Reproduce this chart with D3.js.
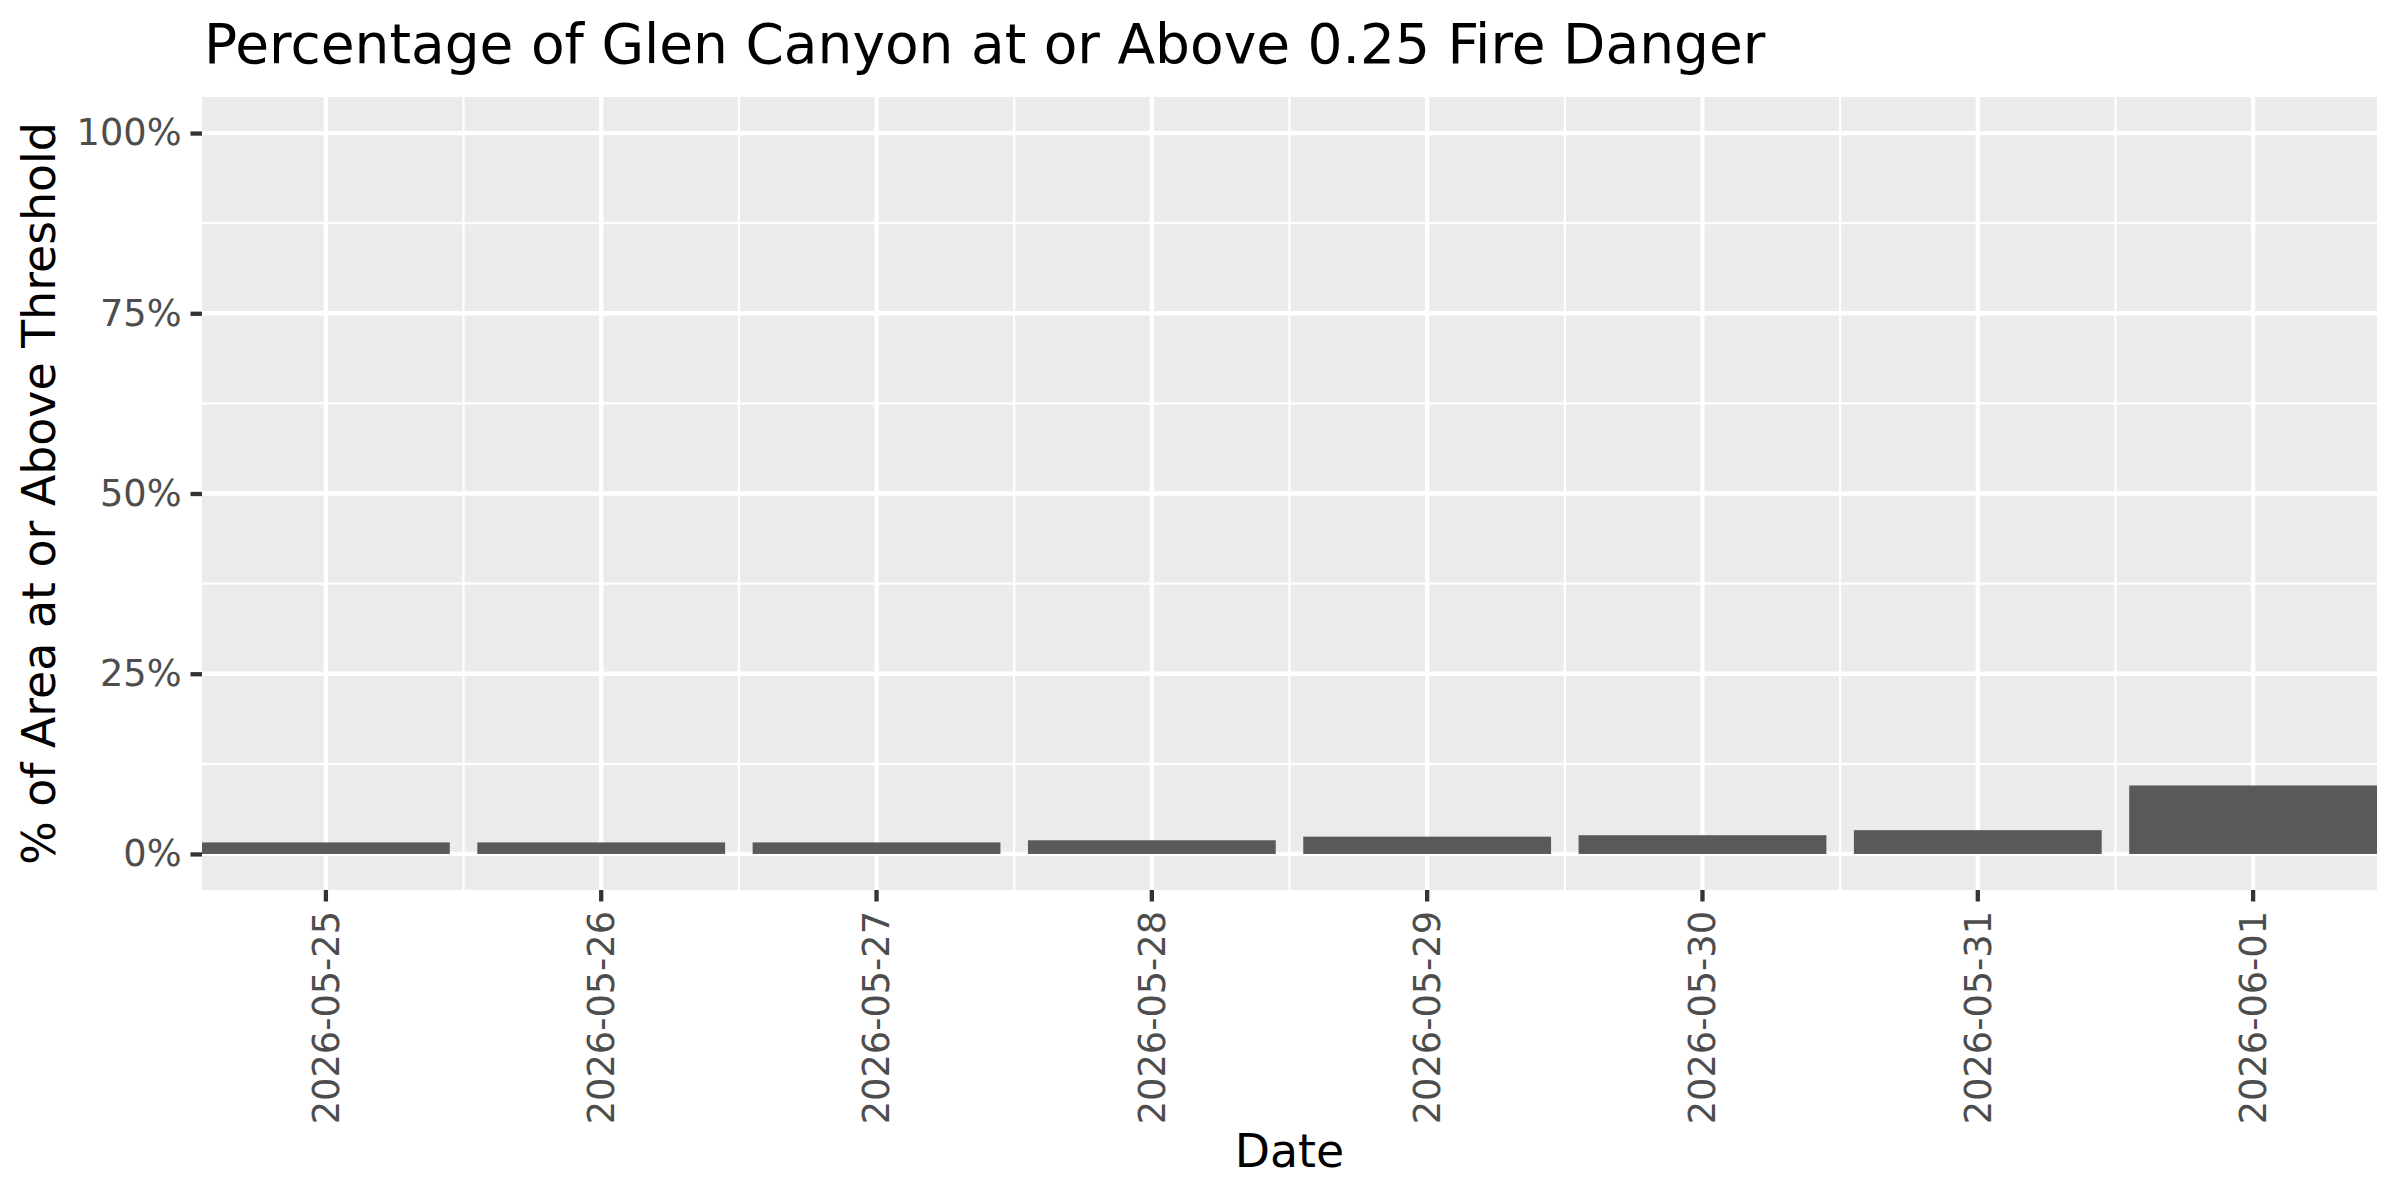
<!DOCTYPE html>
<html>
<head>
<meta charset="utf-8">
<script src="https://cdn.jsdelivr.net/npm/d3@7"></script>
<style>
  body { margin: 0; background: #fff; }
  svg { display: block; font-family: "DejaVu Sans", sans-serif; }
</style>
</head>
<body>
<svg width="2400" height="1200"></svg>
<script>
// data
const dates = ["2026-05-25", "2026-05-26", "2026-05-27", "2026-05-28",
               "2026-05-29", "2026-05-30", "2026-05-31", "2026-06-01"];
const pctAbove = [0.016, 0.016, 0.016, 0.019, 0.024, 0.026, 0.033, 0.095];
const yTicks = [0, 0.25, 0.5, 0.75, 1];
const yMinor = [0.125, 0.375, 0.625, 0.875];

const svg = d3.select("svg");
const panel = { left: 202, right: 2377, top: 97, bottom: 890 };

svg.append("rect").attr("width", 2400).attr("height", 1200).attr("fill", "#fff");

const x = d3.scaleBand()
  .domain(dates)
  .range([panel.left, panel.right])
  .paddingInner(0.1)
  .paddingOuter(0);
const xc = d => x(d) + x.bandwidth() / 2;

const y = d3.scaleLinear()
  .domain([-0.05, 1.05])
  .range([panel.bottom, panel.top]);

// panel background
svg.append("rect")
  .attr("x", panel.left).attr("y", panel.top)
  .attr("width", panel.right - panel.left)
  .attr("height", panel.bottom - panel.top)
  .attr("fill", "#EBEBEB");

const grid = svg.append("g").attr("stroke", "#fff");

// minor grid
grid.selectAll(".hminor").data(yMinor).enter().append("line")
  .attr("x1", panel.left).attr("x2", panel.right)
  .attr("y1", d => y(d)).attr("y2", d => y(d))
  .attr("stroke-width", 2.2);
grid.selectAll(".vminor").data(dates.slice(1)).enter().append("line")
  .attr("x1", (d, i) => (xc(d) + xc(dates[i])) / 2)
  .attr("x2", (d, i) => (xc(d) + xc(dates[i])) / 2)
  .attr("y1", panel.top).attr("y2", panel.bottom)
  .attr("stroke-width", 2.2);

// major grid
grid.selectAll(".hmajor").data(yTicks).enter().append("line")
  .attr("x1", panel.left).attr("x2", panel.right)
  .attr("y1", d => y(d)).attr("y2", d => y(d))
  .attr("stroke-width", 4.3);
grid.selectAll(".vmajor").data(dates).enter().append("line")
  .attr("x1", xc).attr("x2", xc)
  .attr("y1", panel.top).attr("y2", panel.bottom)
  .attr("stroke-width", 4.3);

// bars
svg.append("g").selectAll("rect")
  .data(dates.map((d, i) => ({ date: d, value: pctAbove[i] })))
  .enter().append("rect")
    .attr("x", d => x(d.date))
    .attr("width", x.bandwidth())
    .attr("y", d => y(d.value))
    .attr("height", d => y(0) - y(d.value))
    .attr("fill", "#595959");

// y axis
const yAxis = svg.append("g")
  .attr("transform", `translate(${panel.left},0)`)
  .call(d3.axisLeft(y).tickValues(yTicks).tickSize(11.5).tickPadding(9)
    .tickFormat(d3.format(".0%")));
yAxis.select(".domain").remove();
yAxis.selectAll(".tick line").attr("stroke", "#333333").attr("stroke-width", 4.3);
yAxis.selectAll(".tick text")
  .attr("fill", "#4D4D4D")
  .style("font-size", "36.7px")
  .style("font-family", "DejaVu Sans");

// x axis
const xAxis = svg.append("g")
  .attr("transform", `translate(0,${panel.bottom})`)
  .call(d3.axisBottom(x).tickSize(11.5).tickPadding(0));
xAxis.select(".domain").remove();
xAxis.selectAll(".tick line").attr("stroke", "#333333").attr("stroke-width", 4.3);
xAxis.selectAll(".tick text")
  .attr("fill", "#4D4D4D")
  .style("font-size", "36.7px")
  .style("font-family", "DejaVu Sans")
  .attr("text-anchor", "end")
  .attr("transform", "translate(0,21) rotate(-90)")
  .attr("x", 0).attr("y", 0).attr("dy", "0.35em");

// titles
svg.append("text")
  .attr("x", 204).attr("y", 63)
  .style("font-size", "55px")
  .attr("fill", "#000")
  .text("Percentage of Glen Canyon at or Above 0.25 Fire Danger");

svg.append("text")
  .attr("x", (panel.left + panel.right) / 2).attr("y", 1167)
  .attr("text-anchor", "middle")
  .style("font-size", "45.8px")
  .attr("fill", "#000")
  .text("Date");

svg.append("text")
  .attr("transform", `translate(55,${(panel.top + panel.bottom) / 2}) rotate(-90)`)
  .attr("text-anchor", "middle")
  .style("font-size", "45.8px")
  .attr("fill", "#000")
  .text("% of Area at or Above Threshold");
</script>
</body>
</html>
